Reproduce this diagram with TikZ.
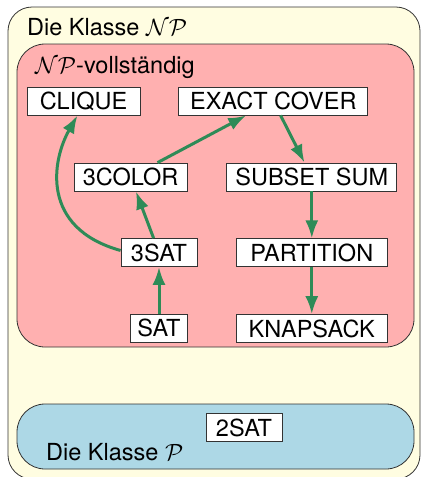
\RequirePackage{fix-cm}
\documentclass[tikz,border=0pt]{standalone}
\usepackage{fontspec}
\setmainfont{TeX Gyre Heros}
\usetikzlibrary{arrows.meta,positioning}

\definecolor{classNP}{RGB}{255,253,225}
\definecolor{classNPC}{RGB}{255,176,176}
\definecolor{classP}{RGB}{173,216,230}
\definecolor{reducegreen}{RGB}{46,139,87}

\tikzset{
  prob/.style={draw=black!80, fill=white, line width=0.8pt, minimum height=28pt,
    inner xsep=4pt, inner ysep=0pt, font=\fontsize{23.5}{27}\selectfont},
  reduce/.style={-{Latex[length=18pt,width=13pt]}, line width=3pt, draw=reducegreen},
  class/.style={draw=black!80, line width=0.8pt, rounded corners=28pt},
  classname/.style={anchor=base west, inner sep=0pt, font=\fontsize{23.5}{27}\selectfont}
}

\begin{document}
\begin{tikzpicture}[x=1pt,y=1pt]
\useasboundingbox (0,0) rectangle (421,-477);

% the three classes
\draw[class, fill=classNP, rounded corners=24pt] (8,-7) rectangle (420,-479);
\draw[class, fill=classNPC] (17,-44) rectangle (414,-347);
\draw[class, fill=classP] (17,-404) rectangle (414,-469);

\node[classname] (np)  at (27,-35)  {Die Klasse $\mathcal{NP}$};
\node[classname] (npc) at (35,-73)  {$\mathcal{NP}$-vollständig};
\node[classname] (p)   at (46,-460) {Die Klasse $\mathcal{P}$};

% problems
\node[prob, minimum width=113pt] (clique) at (83.5,-101) {CLIQUE};
\node[prob, minimum width=189pt] (exact) [right=38pt of clique] {EXACT COVER};

\node[prob, minimum width=113pt] (color) at (130.5,-177) {3COLOR};
\node[prob, minimum width=170pt] (subset) [right=39pt of color] {SUBSET SUM};

\node[prob, minimum width=76pt]  (threesat) at (159,-252.5) {3SAT};
\node[prob, minimum width=151pt] (partition) [below=47pt of subset] {PARTITION};

\node[prob, minimum width=57pt]  (sat) [below=47pt of threesat] {SAT};
\node[prob, minimum width=151pt] (knapsack) [below=47pt of partition] {KNAPSACK};

\node[prob, minimum width=76pt]  (twosat) at (244,-427.5) {2SAT};

% reductions
\draw[reduce] (sat) -- (threesat);
\draw[reduce] (threesat) -- (color);
\draw[reduce] ([yshift=2pt]threesat.west) .. controls (40,-228) and (52,-160) .. ([xshift=-6pt]clique.south);
\draw[reduce] (color) -- (exact);
\draw[reduce] (exact) -- (subset);
\draw[reduce] (subset) -- (partition);
\draw[reduce] (partition) -- (knapsack);
\end{tikzpicture}
\end{document}
